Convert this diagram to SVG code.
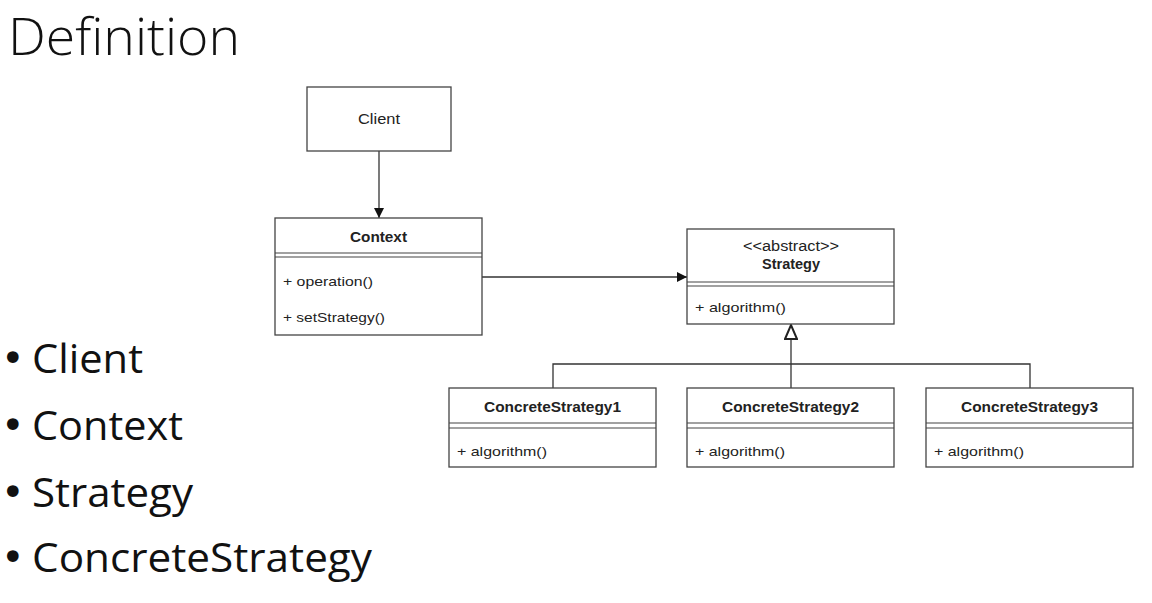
<svg xmlns="http://www.w3.org/2000/svg" width="1152" height="603" viewBox="0 0 1152 603">
<style>
.box{fill:#fff;stroke:#444;stroke-width:1.3}
.sep{stroke:#444;stroke-width:1.2;fill:none}
.t{font-family:"Liberation Sans",Arial,sans-serif;font-size:14px;fill:#222}
.b{font-weight:bold;text-anchor:middle}
.m{font-size:13.5px}
.slide{font-family:"Open Sans","Noto Sans",sans-serif;fill:#111}
.dot{font-family:"DejaVu Sans",sans-serif;fill:#111;font-size:40px}
.conn{stroke:#333;stroke-width:1.3;fill:none}
</style>
<defs>
<marker id="arr" viewBox="0 0 10 10" refX="10" refY="5" markerWidth="10" markerHeight="10" markerUnits="userSpaceOnUse" orient="auto">
<path d="M0,0 L10,5 L0,10 z" fill="#111"/>
</marker>
<marker id="inh" viewBox="0 0 16 14" refX="15" refY="7" markerWidth="16" markerHeight="14" markerUnits="userSpaceOnUse" orient="auto">
<path d="M1,1 L15,7 L1,13 z" fill="#fff" stroke="#222" stroke-width="2"/>
</marker>
</defs>
<rect width="1152" height="603" fill="#fff"/>
<text class="slide" x="8" y="55" font-size="52" font-weight="300" textLength="232" lengthAdjust="spacingAndGlyphs">Definition</text>
<g id="bullets">
<text class="dot" x="1" y="372">•</text>
<text class="dot" x="1" y="439">•</text>
<text class="dot" x="1" y="506">•</text>
<text class="dot" x="1" y="571">•</text>
<text class="slide" font-size="41" x="32" y="373" textLength="111" lengthAdjust="spacingAndGlyphs">Client</text>
<text class="slide" font-size="41" x="32" y="440" textLength="151" lengthAdjust="spacingAndGlyphs">Context</text>
<text class="slide" font-size="41" x="32" y="507" textLength="161" lengthAdjust="spacingAndGlyphs">Strategy</text>
<text class="slide" font-size="41" x="32" y="572" textLength="340" lengthAdjust="spacingAndGlyphs">ConcreteStrategy</text>
</g>
<g id="connectors">
<line class="conn" x1="379" y1="151" x2="379" y2="218" marker-end="url(#arr)"/>
<line class="conn" x1="482" y1="277" x2="687" y2="277" marker-end="url(#arr)"/>
<path class="conn" d="M553,388 V364 H1030 V388"/>
<line class="conn" x1="791" y1="388" x2="791" y2="325" marker-end="url(#inh)"/>
</g>
<g id="client">
<rect class="box" x="307" y="87" width="144" height="64"/>
<text class="t" x="358" y="124" textLength="42" lengthAdjust="spacingAndGlyphs">Client</text>
</g>
<g id="context">
<rect class="box" x="275" y="218" width="207" height="117"/>
<path class="sep" d="M275,253 H482 M275,257 H482"/>
<text class="t b" x="378.5" y="242" textLength="57" lengthAdjust="spacingAndGlyphs">Context</text>
<text class="t m" x="283" y="286" textLength="90" lengthAdjust="spacingAndGlyphs">+ operation()</text>
<text class="t m" x="283" y="322" textLength="102" lengthAdjust="spacingAndGlyphs">+ setStrategy()</text>
</g>
<g id="strategy">
<rect class="box" x="687" y="229" width="207" height="95"/>
<path class="sep" d="M687,282 H894 M687,286 H894"/>
<text class="t b" x="791" y="251" style="font-weight:normal" textLength="96" lengthAdjust="spacingAndGlyphs">&lt;&lt;abstract&gt;&gt;</text>
<text class="t b" x="791" y="269" textLength="58" lengthAdjust="spacingAndGlyphs">Strategy</text>
<text class="t m" x="695" y="312" textLength="91" lengthAdjust="spacingAndGlyphs">+ algorithm()</text>
</g>
<g id="concrete1">
<rect class="box" x="449" y="388" width="207" height="79"/>
<path class="sep" d="M449,423 H656 M449,428 H656"/>
<text class="t b" x="552.5" y="412" textLength="137" lengthAdjust="spacingAndGlyphs">ConcreteStrategy1</text>
<text class="t m" x="457" y="456" textLength="90" lengthAdjust="spacingAndGlyphs">+ algorithm()</text>
</g>
<g id="concrete2">
<rect class="box" x="687" y="388" width="207" height="79"/>
<path class="sep" d="M687,423 H894 M687,428 H894"/>
<text class="t b" x="790.5" y="412" textLength="137" lengthAdjust="spacingAndGlyphs">ConcreteStrategy2</text>
<text class="t m" x="695" y="456" textLength="90" lengthAdjust="spacingAndGlyphs">+ algorithm()</text>
</g>
<g id="concrete3">
<rect class="box" x="926" y="388" width="207" height="79"/>
<path class="sep" d="M926,423 H1133 M926,428 H1133"/>
<text class="t b" x="1029.5" y="412" textLength="137" lengthAdjust="spacingAndGlyphs">ConcreteStrategy3</text>
<text class="t m" x="934" y="456" textLength="90" lengthAdjust="spacingAndGlyphs">+ algorithm()</text>
</g>
</svg>
